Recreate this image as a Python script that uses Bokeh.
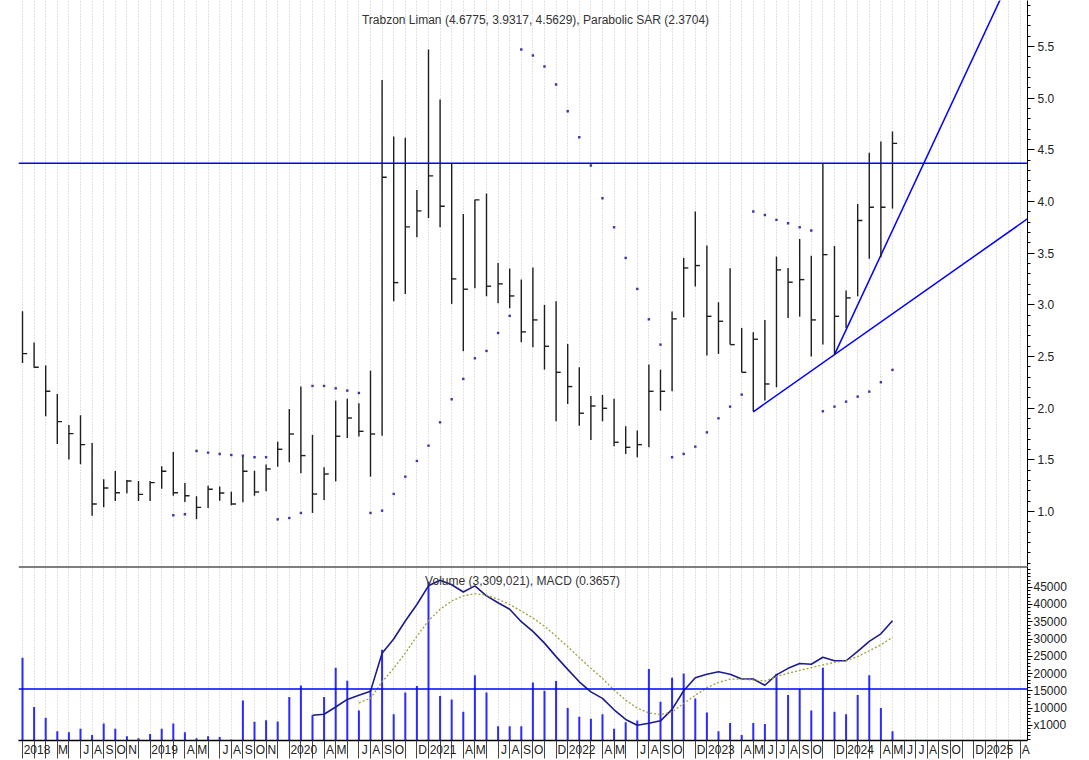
from bokeh.plotting import figure
from bokeh.models import (Range1d, LinearAxis, FixedTicker, Span, Label, Grid,
                          NumeralTickFormatter)
from bokeh.layouts import column
from bokeh.embed import file_html
from bokeh.resources import INLINE

nan = float("nan")

# ---------------- data (monthly bars, first bar = Feb 2018) ----------------
high = [2.938, 2.635, 2.412, 2.138, 1.838, 1.931, 1.664, 1.312, 1.392, 1.305,
        1.295, 1.295, 1.437, 1.576, 1.276, 1.147, 1.250, 1.241, 1.192, 1.541,
        1.395, 1.454, 1.676, 1.992, 2.209, 1.741, 1.428, 2.073, 2.092, 2.047,
        2.363, 5.177, 4.629, 4.616, 4.112, 5.471, 4.987, 4.364, 3.880, 4.016,
        4.077, 3.406, 3.351, 3.244, 3.361, 2.999, 3.035, 2.622, 2.396, 2.118,
        2.128, 2.092, 1.825, 1.783, 2.422, 2.373, 2.935, 3.454, 3.903, 3.574,
        3.025, 3.354, 2.777, 2.735, 2.854, 3.467, 3.357, 3.638, 3.474, 4.364,
        3.570, 3.138, 3.977, 4.471, 4.580, 4.6775]
low = [2.438, 2.390, 1.921, 1.654, 1.502, 1.457, 0.960, 1.040, 1.102, 1.176,
       1.102, 1.102, 1.221, 1.153, 1.092, 0.926, 1.034, 1.105, 1.060, 1.089,
       1.153, 1.195, 1.434, 1.476, 1.370, 0.986, 1.111, 1.292, 1.712, 1.725,
       1.337, 1.734, 3.035, 3.106, 3.654, 3.841, 3.751, 3.009, 2.551, 3.161,
       3.083, 3.015, 2.967, 2.638, 2.589, 2.373, 1.873, 2.041, 1.831, 1.692,
       1.873, 1.631, 1.557, 1.525, 1.621, 1.976, 2.163, 2.880, 3.177, 2.509,
       2.525, 2.615, 2.347, 1.967, 2.073, 2.202, 2.873, 2.886, 2.499, 2.615,
       2.518, 2.777, 3.083, 3.445, 3.461, 3.9317]
close = [2.528, 2.396, 2.163, 1.870, 1.754, 1.647, 1.073, 1.228, 1.182, 1.295,
         1.166, 1.279, 1.389, 1.182, 1.153, 1.040, 1.215, 1.179, 1.073, 1.389,
         1.189, 1.412, 1.602, 1.750, 1.541, 1.169, 1.363, 1.728, 1.905, 1.776,
         1.750, 4.235, 3.215, 3.754, 3.909, 4.248, 3.954, 3.251, 3.151, 4.016,
         3.180, 3.203, 3.086, 2.738, 2.854, 2.599, 2.347, 2.209, 1.951, 2.021,
         1.999, 1.670, 1.621, 1.647, 2.163, 2.163, 2.864, 3.357, 3.380, 2.889,
         2.841, 2.615, 2.347, 2.667, 2.234, 3.338, 3.219, 3.244, 2.854, 3.486,
         2.889, 3.067, 3.816, 3.944, 3.944, 4.5629]
sar = [nan] * 13 + [
    0.963, 0.973, 1.585, 1.570, 1.557, 1.547, 1.541, 1.525, 1.525, 0.924,
    0.937, 0.986, 2.215, 2.215, 2.192, 2.170, 2.147, 0.986, 1.008, 1.170,
    1.337, 1.489, 1.637, 1.863, 2.086, 2.283, 2.483, 2.554, 2.728, 2.893,
    5.471, 5.413, 5.306, 5.132, 4.874, 4.622, 4.348, 4.032, 3.751, 3.454,
    3.154, 2.860, 2.615, 1.525, 1.557, 1.628, 1.766, 1.902, 2.015, 2.131,
    3.903, 3.870, 3.822, 3.790, 3.751, 3.719, 1.970, 2.015, 2.063, 2.112,
    2.160, 2.251, 2.3704]
volume = [24600, 10300, 7200, 3300, 3000, 4000, 2200, 5500, 4000, 1850,
          1270, 2500, 4000, 5500, 3000, 1270, 1850, 1650, 880, 12200,
          6000, 6500, 6100, 13200, 16500, 7900, 13200, 21700, 17900, 9300,
          15200, 26900, 8200, 14500, 16400, 46600, 13500, 12500, 8900, 19500,
          14500, 4700, 4700, 4700, 17400, 15000, 17800, 10000, 7500, 6900,
          8200, 4000, 5900, 6400, 21300, 11800, 18800, 20000, 12800, 8700,
          3300, 5700, 2200, 5700, 5400, 19900, 13800, 15500, 9300, 21700,
          8900, 8200, 13800, 19500, 10000, 3309]
macd = [nan] * 25 + [
    7900, 8200, 10300, 12500, 13700, 14900, 25900, 30000, 35200, 40000,
    45400, 47000, 45700, 43600, 45400, 42500, 40500, 38600, 35000, 32200,
    28800, 24900, 21200, 17600, 14700, 12800, 9500, 6700, 5000, 5600,
    6300, 9600, 15000, 18800, 19800, 20500, 19800, 18400, 18400, 16600,
    19600, 21500, 22900, 22700, 24700, 23700, 23700, 26400, 29300, 31500,
    35300]
signal = [nan] * 29 + [
    11500, 12800, 17600, 21500, 25900, 30800, 35300, 38600, 41000, 42500,
    43100, 42700, 41500, 40000, 38100, 36100, 33700, 30800, 27800, 24600,
    21500, 18600, 15200, 12300, 10000, 8600, 8100, 8900, 11300, 13700,
    15900, 17400, 18400, 18400, 18100, 17800, 19100, 20100, 20900, 21700,
    22500, 23200, 23700, 24900, 26600, 28300, 30500]

price_level = 4.37
volume_level = 15500
trend1 = ([63, 70], [1.965, 2.518])   # lower support line (two anchor bars)
trend2 = ([70, 74], [2.518, 3.480])   # steep support line

price_ticks = [1.0, 1.5, 2.0, 2.5, 3.0, 3.5, 4.0, 4.5, 5.0, 5.5]
volume_ticks = [5000, 10000, 15000, 20000, 25000, 30000, 35000, 40000, 45000]

label_k = [0, 3, 5, 6, 7, 8, 9,
           11, 14, 15, 17, 18, 19, 20, 21,
           23, 26, 27, 29, 30, 31, 32, 34,
           35, 38, 39, 41, 42, 43, 44, 46,
           47, 50, 51, 53, 54, 55, 56, 58,
           59, 62, 63, 64, 65, 66, 67, 68, 70,
           71, 74, 75, 76, 77, 78, 79, 80, 82,
           83, 86]
label_txt = ["2018", "M", "J", "A", "S", "O", "N",
             "2019", "A", "M", "J", "A", "S", "O", "N",
             "2020", "A", "M", "J", "A", "S", "O", "D",
             "2021", "A", "M", "J", "A", "S", "O", "D",
             "2022", "A", "M", "J", "A", "S", "O", "D",
             "2023", "A", "M", "J", "J", "A", "S", "O", "D",
             "2024", "A", "M", "J", "J", "A", "S", "O", "D",
             "2025", "A"]

title_main = "Trabzon Liman (4.6775, 3.9317, 4.5629), Parabolic SAR (2.3704)"
title_sub = "Volume (3,309,021), MACD (0.3657)"
unit_note = "x1000"

# ---------------- layout constants ----------------
FONT = "Liberation Sans"
X0, X1 = -0.345, 86.64
N_SLOTS = 87
x = list(range(len(close)))
BLUE = "#0000ff"
GRID = "#c4c4c4"

W = 1081
H1 = 566
H2F = 174
V0, V1 = 600, 51000

# ---------------- price panel ----------------
p1 = figure(width=W, height=H1, x_range=Range1d(X0, X1), y_range=Range1d(0.4677, 5.9452),
            output_backend="svg", toolbar_location=None,
            x_axis_location=None, y_axis_location=None,
            min_border_left=18, min_border_right=54, min_border_top=0, min_border_bottom=0)
p1.outline_line_color = None
p1.xgrid.visible = False
p1.ygrid.visible = False
p1.add_layout(Grid(dimension=0, ticker=FixedTicker(ticks=list(range(N_SLOTS))),
                   grid_line_color=GRID, grid_line_dash="1 2", grid_line_width=1))

ax1 = LinearAxis(ticker=FixedTicker(ticks=price_ticks,
                                    minor_ticks=[round(0.5 + 0.1 * i, 1) for i in range(55)]),
                 formatter=NumeralTickFormatter(format="0.0"))
ax1.major_tick_out = 7
ax1.major_tick_in = 0
ax1.minor_tick_out = 3
ax1.minor_tick_in = 0
ax1.major_label_standoff = 3
ax1.major_label_text_font = FONT
ax1.major_label_text_font_size = "12px"
ax1.major_label_text_color = "#222222"
ax1.axis_line_color = "black"
ax1.major_tick_line_color = "black"
ax1.minor_tick_line_color = "black"
p1.add_layout(ax1, "right")

p1.add_layout(Span(location=price_level, dimension="width", line_color=BLUE, line_width=1.5))

# trend lines extended to the right
for xs, ys in (trend1, trend2):
    slope = (ys[1] - ys[0]) / (xs[1] - xs[0])
    xe = 95
    p1.line([xs[0], xe], [ys[0], ys[0] + slope * (xe - xs[0])], line_color=BLUE, line_width=1.5)

p1.segment(x0=x, y0=low, x1=x, y1=high, line_color="#1e1e1e", line_width=1.4)
p1.segment(x0=x, y0=close, x1=[v + 0.4 for v in x], y1=close, line_color="#1e1e1e", line_width=1.4)
p1.scatter(x, sar, marker="square", size=2.4, color="#3838a8", line_width=0)

p1.add_layout(Label(x=517, y=H1 - 19, x_units="screen", y_units="screen", text=title_main,
                    text_align="center", text_baseline="middle", text_font=FONT,
                    text_font_size="12px", text_color="#333333"))

# ---------------- volume / MACD panel ----------------
p2 = figure(width=W, height=H2F + 20, x_range=p1.x_range, y_range=Range1d(V0, V1),
            output_backend="svg", toolbar_location=None,
            x_axis_location=None, y_axis_location=None,
            min_border_left=18, min_border_right=54, min_border_top=0, min_border_bottom=20)
p2.outline_line_color = None
p2.xgrid.visible = False
p2.ygrid.visible = False
p2.add_layout(Grid(dimension=0, ticker=FixedTicker(ticks=list(range(N_SLOTS))),
                   grid_line_color=GRID, grid_line_dash="1 2", grid_line_width=1))

ax2 = LinearAxis(ticker=FixedTicker(ticks=volume_ticks,
                                    minor_ticks=[1000 * i for i in range(1, 51)]),
                 formatter=NumeralTickFormatter(format="0"))
# the lowest tick label is covered by the "x1000" unit note in the original
ax2.major_label_overrides = {volume_ticks[0]: unit_note}
ax2.major_tick_out = 5
ax2.major_tick_in = 0
ax2.minor_tick_out = 3
ax2.minor_tick_in = 0
ax2.major_label_standoff = 1
ax2.major_label_text_font = FONT
ax2.major_label_text_font_size = "12px"
ax2.major_label_text_color = "#222222"
ax2.axis_line_color = "black"
p2.add_layout(ax2, "right")

label_pos = [k + (1.25 if len(t) == 4 else 0.5) for k, t in zip(label_k, label_txt)]
axb = LinearAxis(ticker=FixedTicker(ticks=label_pos, minor_ticks=list(range(N_SLOTS))))
axb.major_label_overrides = {pos: t for pos, t in zip(label_pos, label_txt)}
axb.major_tick_out = 0
axb.major_tick_in = 0
axb.major_tick_line_color = None
axb.minor_tick_out = 18
axb.minor_tick_in = 0
axb.minor_tick_line_color = "#444444"
axb.major_label_standoff = -16
axb.major_label_text_font = FONT
axb.major_label_text_font_size = "12px"
axb.major_label_text_color = "#222222"
axb.axis_line_color = "black"
axb.axis_line_width = 1.5
p2.add_layout(axb, "below")

p2.add_layout(Span(location=V1, dimension="width", line_color="black", line_width=2))
p2.add_layout(Span(location=volume_level, dimension="width", line_color=BLUE, line_width=1.5))

p2.segment(x0=x, y0=[0] * len(x), x1=x, y1=volume, line_color="#2b2bff", line_width=2)
p2.line(x, macd, line_color="#1c1c8c", line_width=1.6)
p2.line(x, signal, line_color="#a0a038", line_width=1.3, line_dash="2 2")

p2.add_layout(Label(x=504, y=H2F - 14, x_units="screen", y_units="screen", text=title_sub,
                    text_align="center", text_baseline="middle", text_font=FONT,
                    text_font_size="12px", text_color="#333333"))

layout = column(p1, p2, spacing=0)
open("out.html", "w").write(file_html(layout, INLINE))
